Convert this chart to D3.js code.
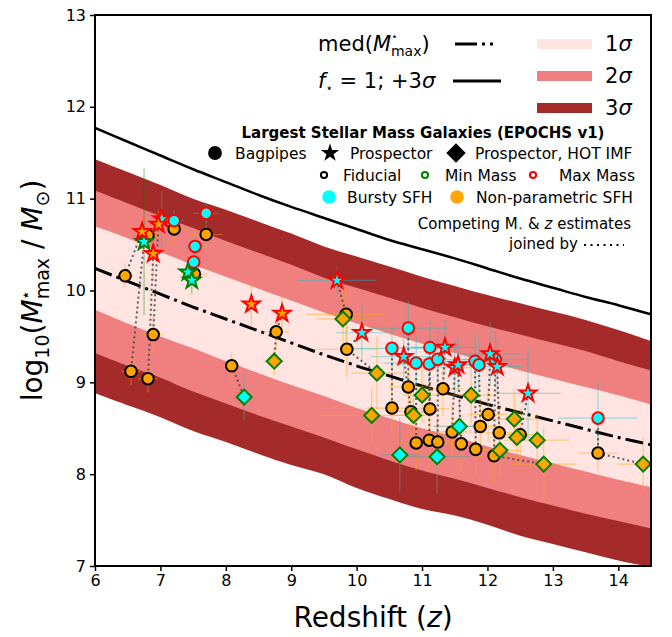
<!DOCTYPE html>
<html>
<head>
<meta charset="utf-8">
<script src="https://cdn.jsdelivr.net/npm/d3@7"></script>
<style>
  html, body { margin: 0; padding: 0; background: #fff; }
  svg { display: block; font-family: "DejaVu Sans", sans-serif; }
</style>
</head>
<body>
<svg id="chart" width="672" height="637"></svg>
<script>
// ---- Model curves: maximum stellar mass expected at each redshift ----
const zGrid   = [6, 6.5, 7, 7.5, 8, 8.5, 9, 9.5, 10, 10.5, 11, 11.5, 12, 12.5, 13, 13.5, 14, 14.5];
const medMax  = [10.24, 10.10, 9.96, 9.82, 9.69, 9.56, 9.43, 9.30, 9.18, 9.07, 8.96, 8.86, 8.76, 8.67, 8.58, 8.49, 8.40, 8.32];
const fStarOne= [11.77, 11.62, 11.47, 11.32, 11.18, 11.04, 10.91, 10.79, 10.67, 10.55, 10.45, 10.35, 10.24, 10.13, 10.03, 9.93, 9.84, 9.74];
const sig1Hi  = [10.70, 10.57, 10.42, 10.28, 10.15, 10.02, 9.89, 9.76, 9.64, 9.53, 9.42, 9.32, 9.22, 9.13, 9.04, 8.95, 8.86, 8.76];
const sig1Lo  = [9.79, 9.64, 9.50, 9.37, 9.23, 9.10, 8.97, 8.85, 8.72, 8.61, 8.50, 8.41, 8.30, 8.21, 8.12, 8.03, 7.94, 7.86];
const sig2Hi  = [11.09, 10.95, 10.81, 10.68, 10.54, 10.41, 10.28, 10.14, 10.03, 9.92, 9.81, 9.71, 9.61, 9.52, 9.43, 9.34, 9.23, 9.13];
const sig2Lo  = [9.32, 9.18, 9.05, 8.90, 8.77, 8.64, 8.52, 8.40, 8.27, 8.15, 8.04, 7.95, 7.85, 7.75, 7.66, 7.57, 7.49, 7.41];
const sig3Hi  = [11.43, 11.29, 11.15, 11.00, 10.88, 10.75, 10.62, 10.48, 10.37, 10.26, 10.15, 10.05, 9.95, 9.86, 9.77, 9.68, 9.57, 9.45];
const sig3Lo  = [8.88, 8.75, 8.62, 8.47, 8.35, 8.22, 8.10, 8.00, 7.85, 7.73, 7.62, 7.55, 7.45, 7.33, 7.24, 7.15, 7.06, 6.99];

const xTicks = [6, 7, 8, 9, 10, 11, 12, 13, 14];
const yTicks = [7, 8, 9, 10, 11, 12, 13];

// ---- Galaxy estimates: [z, log10 M*, galaxy id, z error, log M error] ----
// Bagpipes, non-parametric SFH, fiducial fit
const bagpipesNonparFid = [
  [6.46, 10.16, 1, 0.12, 0.12], [6.55, 9.12, 2, 0.15, 0.15], [6.81, 9.04, 3, 0.15, 0.15],
  [6.89, 9.52, 4, 0.15, 0.2], [6.81, 10.60, 5, 0.15, 0.12], [7.21, 10.67, 6, 0.2, 0.15],
  [7.70, 10.61, 7, 0.25, 0.15], [7.52, 10.18, 8, 0.2, 0.15], [8.09, 9.18, 9, 0.15, 0.15],
  [8.77, 9.55, 11, 0.2, 0.2], [9.84, 9.74, 12, 0.6, 0.3], [9.85, 9.36, 13, 0.5, 0.3],
  [10.54, 8.72, 20, 0.4, 0.3], [10.79, 8.95, 21, 0.3, 0.3], [10.83, 8.68, 22, 0.3, 0.3],
  [10.91, 8.34, 23, 0.3, 0.3], [11.12, 8.71, 24, 0.3, 0.3], [11.11, 8.37, 25, 0.3, 0.3],
  [11.24, 8.35, 26, 0.3, 0.3], [11.32, 8.93, 27, 0.3, 0.3], [11.46, 8.46, 28, 0.3, 0.3],
  [11.60, 8.33, 29, 0.3, 0.3], [11.82, 8.27, 30, 0.3, 0.3], [11.89, 8.52, 31, 0.3, 0.3],
  [12.01, 8.65, 32, 0.3, 0.3], [12.18, 8.45, 33, 0.3, 0.3], [12.10, 8.20, 34, 0.3, 0.3],
  [12.50, 8.43, 35, 0.3, 0.3], [13.69, 8.23, 36, 0.3, 0.2]
];
// Bagpipes, bursty SFH, maximum-mass fit
const bagpipesBurstyMax = [
  [7.21, 10.76, 6, 0.15, 0.12], [7.70, 10.84, 7, 0.2, 0.12], [7.53, 10.48, 8, 0.15, 0.12],
  [7.51, 10.31, 8, 0.15, 0.12], [10.54, 9.37, 20, 0.7, 0.25], [10.79, 9.59, 21, 0.6, 0.3],
  [10.91, 9.21, 23, 0.5, 0.3], [11.12, 9.38, 24, 0.5, 0.3], [11.11, 9.20, 25, 0.5, 0.3],
  [11.24, 9.25, 26, 0.5, 0.3], [11.81, 9.23, 30, 0.5, 0.3], [11.87, 9.19, 31, 0.5, 0.3],
  [12.12, 9.25, 34, 0.5, 0.3], [13.69, 8.61, 36, 0.6, 0.4]
];
// Prospector, bursty SFH, maximum-mass fit
const prospectorBurstyMax = [
  [7.02, 10.78, 50, 0.1, 0.3], [9.70, 10.11, 12, 0.6, 0.15], [10.08, 9.54, 13, 0.4, 0.3],
  [10.72, 9.28, 22, 0.5, 0.4], [11.35, 9.38, 27, 0.5, 0.3], [11.50, 9.16, 28, 0.4, 0.3],
  [11.55, 9.19, 29, 0.4, 0.3], [12.04, 9.31, 32, 0.5, 0.35], [12.15, 9.17, 33, 0.4, 0.3],
  [12.62, 8.88, 35, 0.5, 0.5]
];
// Prospector, bursty SFH, minimum-mass fit
const prospectorBurstyMin = [
  [6.75, 10.53, 2, 0.1, 0.8], [7.42, 10.20, 51, 0.1, 0.15], [7.48, 10.11, 8, 0.1, 0.15]
];
// Prospector, non-parametric SFH, maximum-mass fit
const prospectorNonparMax = [
  [6.72, 10.64, 1, 0.1, 0.15], [6.89, 10.40, 3, 0.1, 0.3], [6.97, 10.72, 4, 0.1, 0.15],
  [8.39, 9.85, 10, 0.1, 0.25], [8.86, 9.75, 11, 0.1, 0.2]
];
// Prospector with HOT IMF, non-parametric SFH, minimum-mass fit
const hotNonparMin = [
  [8.74, 9.23, 11, 0.15, 0.15], [9.79, 9.69, 12, 0.4, 0.3], [10.31, 9.10, 13, 0.4, 0.4],
  [10.23, 8.64, 14, 0.8, 0.3], [10.87, 8.64, 60, 0.3, 0.3], [11.00, 8.86, 61, 0.3, 0.3],
  [11.75, 8.86, 62, 0.4, 0.3], [12.41, 8.60, 63, 0.4, 0.3], [12.45, 8.40, 64, 0.4, 0.3],
  [12.76, 8.37, 65, 0.5, 0.3], [12.19, 8.26, 66, 0.3, 0.3], [12.86, 8.11, 34, 0.5, 0.4],
  [14.38, 8.11, 36, 0.4, 0.3]
];
// Prospector with HOT IMF, bursty SFH, minimum-mass fit
const hotBurstyMin = [
  [8.28, 8.84, 9, 0.05, 0.25], [10.66, 8.21, 70, 0.3, 0.4], [11.23, 8.19, 71, 0.5, 0.4],
  [11.57, 8.52, 72, 0.4, 0.3]
];

// ---- Layout ----
const W = 672, H = 637;
const plot = { left: 95, right: 651, top: 15, bottom: 566 };
const x = d3.scaleLinear().domain([6, 14.5]).range([plot.left, plot.right]);
const y = d3.scaleLinear().domain([7, 13]).range([plot.bottom, plot.top]);

const colors = {
  s1: "#ffe4e1", s2: "#f08080", s3: "#a52a2a",
  cyan: "#00ffff", orange: "#ffa500", green: "#008000", red: "#ff0000"
};

const svg = d3.select("#chart");
svg.append("defs").append("clipPath").attr("id", "plotClip")
  .append("rect").attr("x", plot.left).attr("y", plot.top)
  .attr("width", plot.right - plot.left).attr("height", plot.bottom - plot.top);

const g = svg.append("g").attr("clip-path", "url(#plotClip)");

// ---- Sigma bands ----
function band(lo, hi, fill) {
  const area = d3.area()
    .x((d, i) => x(zGrid[i]))
    .y0((d, i) => y(lo[i]))
    .y1((d, i) => y(hi[i]))
    .curve(d3.curveCatmullRom);
  g.append("path").datum(zGrid).attr("d", area).attr("fill", fill);
}
band(sig3Lo, sig3Hi, colors.s3);
band(sig2Lo, sig2Hi, colors.s2);
band(sig1Lo, sig1Hi, colors.s1);

const lineGen = arr => d3.line()
  .x((d, i) => x(zGrid[i]))
  .y((d, i) => y(arr[i]))
  .curve(d3.curveCatmullRom)(zGrid);

g.append("path").attr("d", lineGen(fStarOne))
  .attr("fill", "none").attr("stroke", "#000").attr("stroke-width", 2.5);
g.append("path").attr("d", lineGen(medMax))
  .attr("fill", "none").attr("stroke", "#000").attr("stroke-width", 3)
  .attr("stroke-dasharray", "18,5,3,5");

// ---- Points ----
const sets = [
  { data: bagpipesNonparFid,   shape: "circle",  fill: colors.orange, edge: "#000",       err: "rgba(255,165,0,0.45)" },
  { data: bagpipesBurstyMax,   shape: "circle",  fill: colors.cyan,   edge: colors.red,   err: "rgba(0,200,200,0.4)" },
  { data: prospectorBurstyMax, shape: "star",    fill: colors.cyan,   edge: colors.red,   err: "rgba(0,200,200,0.4)" },
  { data: prospectorBurstyMin, shape: "star",    fill: colors.cyan,   edge: colors.green, err: "rgba(0,128,0,0.4)" },
  { data: prospectorNonparMax, shape: "star",    fill: colors.orange, edge: colors.red,   err: "rgba(255,165,0,0.45)" },
  { data: hotNonparMin,        shape: "diamond", fill: colors.orange, edge: colors.green, err: "rgba(255,165,0,0.45)" },
  { data: hotBurstyMin,        shape: "diamond", fill: colors.cyan,   edge: colors.green, err: "rgba(90,160,160,0.5)" }
];

const symbolPath = {
  circle:  d3.symbol(d3.symbolCircle, 105)(),
  star:    d3.symbol(d3.symbolStar, 88)(),
  diamond: d3.symbol(d3.symbolSquare, 112)()
};

// error bars
sets.forEach(s => {
  s.data.forEach(d => {
    g.append("line").attr("x1", x(d[0] - d[3])).attr("x2", x(d[0] + d[3]))
      .attr("y1", y(d[1])).attr("y2", y(d[1]))
      .attr("stroke", s.err).attr("stroke-width", 1.2);
    g.append("line").attr("x1", x(d[0])).attr("x2", x(d[0]))
      .attr("y1", y(d[1] - d[4])).attr("y2", y(d[1] + d[4]))
      .attr("stroke", s.err).attr("stroke-width", 1.2);
  });
});

// dotted links between competing estimates of one galaxy
const allPts = [];
sets.forEach(s => s.data.forEach(d => allPts.push(d)));
const byGal = d3.group(allPts, d => d[2]);
byGal.forEach(pts => {
  if (pts.length < 2) return;
  const sorted = pts.slice().sort((a, b) => b[1] - a[1]);
  g.append("path")
    .attr("d", d3.line().x(d => x(d[0])).y(d => y(d[1]))(sorted))
    .attr("fill", "none").attr("stroke", "#444").attr("stroke-opacity", 0.85)
    .attr("stroke-width", 2).attr("stroke-dasharray", "2,3");
});

// markers
sets.forEach(s => {
  g.selectAll(null).data(s.data).enter().append("path")
    .attr("d", symbolPath[s.shape])
    .attr("transform", d => `translate(${x(d[0])},${y(d[1])})` + (s.shape === "diamond" ? " rotate(45)" : ""))
    .attr("fill", s.fill).attr("stroke", s.edge).attr("stroke-width", 2);
});

// ---- Axes ----
const xAxis = svg.append("g").attr("transform", `translate(0,${plot.bottom})`)
  .call(d3.axisBottom(x).tickValues(xTicks).tickFormat(d3.format("d")).tickSize(5).tickPadding(4));
const yAxis = svg.append("g").attr("transform", `translate(${plot.left},0)`)
  .call(d3.axisLeft(y).tickValues(yTicks).tickFormat(d3.format("d")).tickSize(5).tickPadding(4));
[xAxis, yAxis].forEach(a => {
  a.select(".domain").remove();
  a.selectAll(".tick line").attr("stroke", "#000").attr("stroke-width", 1.5);
  a.selectAll(".tick text").attr("font-family", "DejaVu Sans").attr("font-size", 16).attr("fill", "#000");
});

svg.append("rect").attr("x", plot.left).attr("y", plot.top)
  .attr("width", plot.right - plot.left).attr("height", plot.bottom - plot.top)
  .attr("fill", "none").attr("stroke", "#000").attr("stroke-width", 2);

// axis titles
svg.append("text").attr("x", (plot.left + plot.right) / 2).attr("y", 627)
  .attr("text-anchor", "middle").attr("font-size", 28)
  .call(t => { t.append("tspan").text("Redshift ("); t.append("tspan").attr("font-style", "italic").text("z"); t.append("tspan").text(")"); });

const yl = svg.append("text")
  .attr("transform", `translate(42,${(plot.top + plot.bottom) / 2}) rotate(-90)`)
  .attr("text-anchor", "middle").attr("font-size", 28);
yl.append("tspan").text("log");
yl.append("tspan").attr("font-size", 19).attr("dy", 7).text("10");
yl.append("tspan").attr("dy", -7).text("(");
yl.append("tspan").attr("font-style", "italic").text("M");
yl.append("tspan").attr("font-size", 16).attr("dy", -11).attr("dx", -1).text("⋆");
yl.append("tspan").attr("font-size", 19).attr("dy", 18).attr("dx", -9).text("max");
yl.append("tspan").attr("dy", -7).text(" / ");
yl.append("tspan").attr("font-style", "italic").text("M");
yl.append("tspan").attr("font-size", 19).attr("dy", 7).text("⊙");
yl.append("tspan").attr("dy", -7).text(")");

// ---- Legend: model curves and bands ----
const lg = svg.append("g");
const t1 = lg.append("text").attr("x", 318).attr("y", 51).attr("font-size", 21);
t1.append("tspan").text("med(");
t1.append("tspan").attr("font-style", "italic").text("M");
t1.append("tspan").attr("font-size", 11).attr("dy", -11).attr("dx", 0).text("⋆");
t1.append("tspan").attr("font-size", 14).attr("dy", 16).attr("dx", -7).text("max");
t1.append("tspan").attr("dy", -5).text(")");
lg.append("line").attr("x1", 455).attr("x2", 500).attr("y1", 44).attr("y2", 44)
  .attr("stroke", "#000").attr("stroke-width", 3).attr("stroke-dasharray", "22,5,3,5,3,10");

const t2 = lg.append("text").attr("x", 318).attr("y", 88).attr("font-size", 21);
t2.append("tspan").attr("font-style", "italic").text("f");
t2.append("tspan").attr("font-size", 12).attr("dy", 4).text("⋆");
t2.append("tspan").attr("dy", -4).text(" = 1; +3");
t2.append("tspan").attr("font-style", "italic").text("σ");
lg.append("line").attr("x1", 453).attr("x2", 501).attr("y1", 81).attr("y2", 81)
  .attr("stroke", "#000").attr("stroke-width", 3);

[["1", colors.s1, 44], ["2", colors.s2, 76], ["3", colors.s3, 108]].forEach(([lab, c, cy]) => {
  lg.append("rect").attr("x", 537).attr("y", cy - 5).attr("width", 55).attr("height", 10).attr("fill", c);
  const t = lg.append("text").attr("x", 605).attr("y", cy + 7).attr("font-size", 21);
  t.append("tspan").text(lab);
  t.append("tspan").attr("font-style", "italic").text("σ");
});

// ---- Legend: galaxy catalogue ----
lg.append("text").attr("x", 423).attr("y", 138).attr("text-anchor", "middle")
  .attr("font-size", 15).attr("font-weight", "bold").text("Largest Stellar Mass Galaxies (EPOCHS v1)");

const fs = 15.5;
function legendItem(mx, my, path, rot, fill, stroke, tx, label) {
  lg.append("path").attr("d", path)
    .attr("transform", `translate(${mx},${my})` + (rot ? " rotate(45)" : ""))
    .attr("fill", fill).attr("stroke", stroke || "none").attr("stroke-width", stroke ? 2 : 0);
  lg.append("text").attr("x", tx).attr("y", my + 5.5).attr("font-size", fs).text(label);
}
legendItem(215, 153, d3.symbol(d3.symbolCircle, 150)(), false, "#000", null, 235, "Bagpipes");
legendItem(330, 153, d3.symbol(d3.symbolStar, 105)(), false, "#000", null, 350, "Prospector");
legendItem(456, 153, d3.symbol(d3.symbolSquare, 190)(), true, "#000", null, 475, "Prospector, HOT IMF");

legendItem(324, 175, d3.symbol(d3.symbolCircle, 30)(), false, "none", "#000", 343, "Fiducial");
legendItem(425, 175, d3.symbol(d3.symbolCircle, 30)(), false, "none", colors.green, 445, "Min Mass");
legendItem(533, 175, d3.symbol(d3.symbolCircle, 30)(), false, "none", colors.red, 559, "Max Mass");

legendItem(329, 197, d3.symbol(d3.symbolCircle, 145)(), false, colors.cyan, null, 347, "Bursty SFH");
legendItem(457, 197, d3.symbol(d3.symbolCircle, 145)(), false, colors.orange, null, 476, "Non-parametric SFH");

const c1 = lg.append("text").attr("x", 631).attr("y", 229).attr("text-anchor", "end").attr("font-size", 15);
c1.append("tspan").text("Competing M");
c1.append("tspan").attr("font-size", 9).attr("fill", "#555").attr("dy", 2).text("⋆");
c1.append("tspan").attr("dy", -2).text("  & ");
c1.append("tspan").attr("font-style", "italic").text("z");
c1.append("tspan").text(" estimates");
lg.append("text").attr("x", 578).attr("y", 249).attr("text-anchor", "end").attr("font-size", 15).text("joined by");
lg.append("line").attr("x1", 584).attr("x2", 624).attr("y1", 245).attr("y2", 245)
  .attr("stroke", "#000").attr("stroke-width", 2).attr("stroke-dasharray", "2,4.5");
</script>
</body>
</html>
